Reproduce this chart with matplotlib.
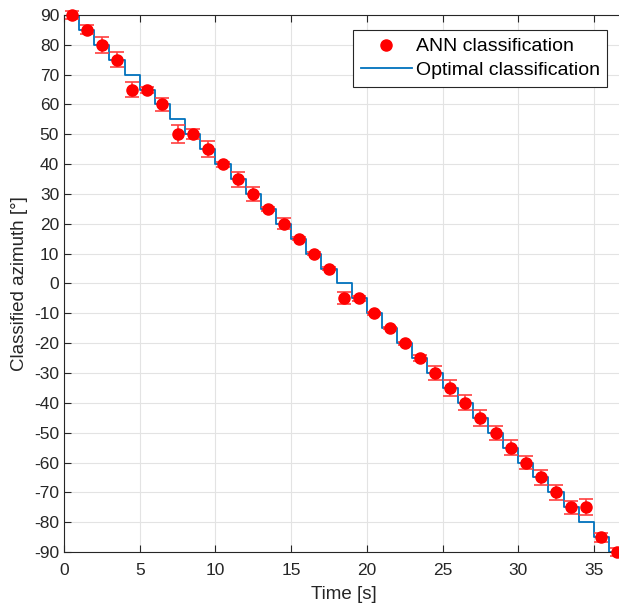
import numpy as np
import matplotlib.pyplot as plt
from matplotlib.lines import Line2D

plt.rcParams['font.family'] = ['Liberation Sans', 'DejaVu Sans']
plt.rcParams['axes.unicode_minus'] = False

# ANN classification (mean and error) at mid-second times
t_ann = [0.5, 1.5, 2.5, 3.5, 4.5, 5.5, 6.5, 7.5, 8.5, 9.5, 10.5, 11.5, 12.5,
         13.5, 14.5, 15.5, 16.5, 17.5, 18.5, 19.5, 20.5, 21.5, 22.5, 23.5,
         24.5, 25.5, 26.5, 27.5, 28.5, 29.5, 30.5, 31.5, 32.5, 33.5, 34.5,
         35.5, 36.5]
ann = [90, 85, 80, 75, 65, 65, 60, 50, 50, 45, 40, 35, 30,
       25, 20, 15, 10, 5, -5, -5, -10, -15, -20, -25,
       -30, -35, -40, -45, -50, -55, -60, -65, -70, -75, -75,
       -85, -90]
ann_err = [1.5, 1.5, 2.7, 2.5, 2.4, 1.0, 2.3, 3.0, 1.7, 2.6, 0.8, 2.5, 2.5,
           0.6, 1.8, 0.5, 0.4, 0.4, 2.0, 0.8, 0.4, 0.4, 0.5, 1.0,
           2.2, 2.8, 2.5, 2.6, 2.3, 2.6, 2.2, 2.4, 2.5, 2.2, 2.6,
           1.5, 1.5]

# optimal classification (step edges)
t_opt = list(range(0, 38))
opt = [90, 85, 80, 75, 70, 65, 60, 55, 50, 45, 40, 35, 30, 25, 20, 15, 10, 5,
       0, -5, -10, -15, -20, -25, -30, -35, -40, -45, -50, -55, -60, -65, -70,
       -75, -80, -85, -90, -90]

fig = plt.figure(figsize=(6.19, 6.07), dpi=100)
ax = fig.add_axes([0.1034, 0.0906, 0.905, 0.8847])

ax.errorbar(t_ann, ann, yerr=ann_err, fmt='o', color='red', ecolor=(1, 0.25, 0.25),
            markersize=8, capsize=5, elinewidth=1.2, capthick=1.2, zorder=3,
            clip_on=False)
line, = ax.step(t_opt, opt, where='post', color='#0072BD', lw=1.3, zorder=2)

ax.set_xlim(0, 37)
ax.set_ylim(-90, 90)
ax.set_xticks(range(0, 40, 5))
ax.set_yticks(range(-90, 91, 10))
ax.grid(True, color='#e3e3e3', lw=0.8)
ax.set_axisbelow(True)
ax.tick_params(direction='in', top=True, right=False, labelsize=12.5,
               length=5, colors='#262626')
ax.tick_params(axis='x', pad=8)
for s in ['left', 'bottom', 'top']:
    ax.spines[s].set_color('#262626')
ax.spines['right'].set_visible(False)
ax.set_xlabel('Time [s]', fontsize=13.5, color='#262626', labelpad=6)
ax.set_ylabel('Classified azimuth [°]', fontsize=13.5, color='#262626')

h_ann = Line2D([], [], marker='o', color='red', ls='none', markersize=8)
leg = ax.legend([h_ann, line], ['ANN classification', 'Optimal classification'],
                loc='upper right', bbox_to_anchor=(0.97, 0.972), fontsize=14,
                fancybox=False, framealpha=1, edgecolor='#262626',
                borderpad=0.4, handlelength=2.6, handletextpad=0.2,
                labelspacing=0.3, borderaxespad=0)
leg.get_frame().set_linewidth(0.8)

fig.savefig('out.png', dpi=100)
